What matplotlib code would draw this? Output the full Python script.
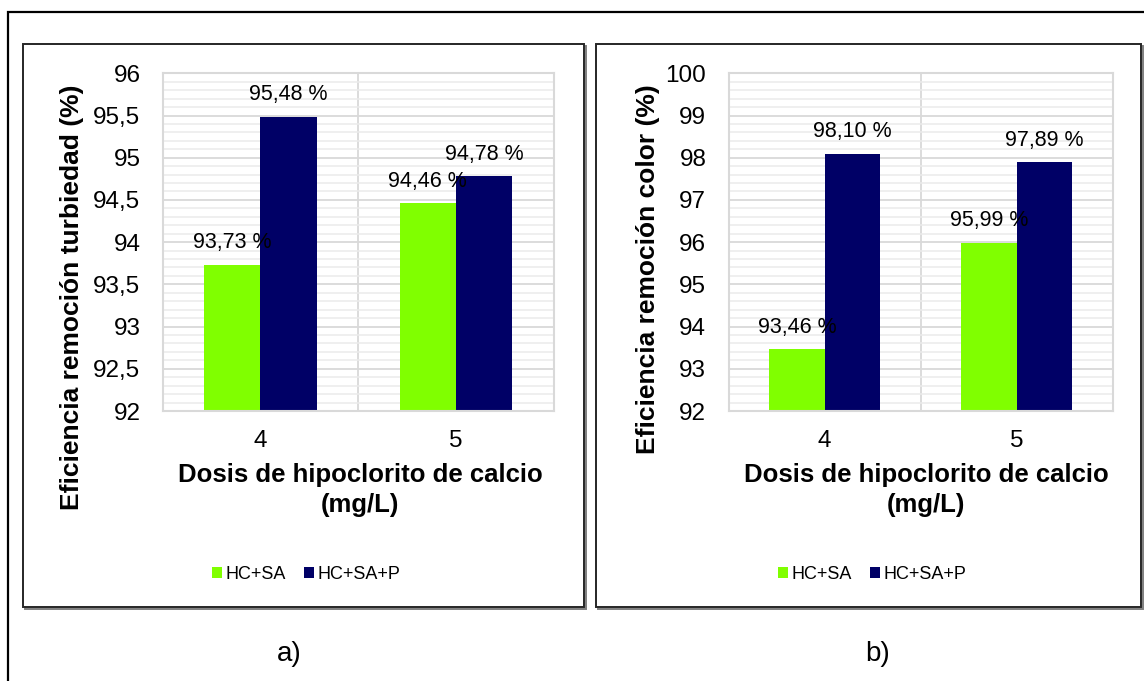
import matplotlib
matplotlib.use("Agg")
import matplotlib.pyplot as plt
from matplotlib.patches import Rectangle
from matplotlib.ticker import MultipleLocator, FuncFormatter

plt.rcParams['font.family'] = ['Liberation Sans', 'DejaVu Sans']

# Data
doses = ["4", "5"]
series_names = ["HC+SA", "HC+SA+P"]
turbidity_hc_sa = [93.73, 94.46]
turbidity_hc_sa_p = [95.48, 94.78]
color_hc_sa = [93.46, 95.99]
color_hc_sa_p = [98.10, 97.89]

GREEN = "#80FF00"
NAVY = "#000066"

W, H = 1144, 681
fig = plt.figure(figsize=(W / 100, H / 100), dpi=100)
fig.patch.set_facecolor("white")


def fx(px):
    return px / W


def fy(py):
    return 1 - py / H


def comma(v, _pos=None):
    return ("%g" % v).replace(".", ",")


def pct(v):
    return ("%.2f %%" % v).replace(".", ",")


# Outer frame and the two panel boxes (with a soft shadow)
fig.add_artist(Rectangle((fx(7.5), fy(700)), fx(1160) - fx(7.5), fy(12) - fy(700),
                         transform=fig.transFigure, fill=False, lw=1.6,
                         edgecolor="black", zorder=-3))
for (l, t, r, b) in [(23, 44, 583.5, 607), (595.5, 44, 1141, 607)]:
    fig.add_artist(Rectangle((fx(l + 2), fy(b + 2)), fx(r) - fx(l), fy(t) - fy(b),
                             transform=fig.transFigure, fill=False, lw=1.4,
                             edgecolor="#7f7f7f", zorder=-2))
    fig.add_artist(Rectangle((fx(l), fy(b)), fx(r) - fx(l), fy(t) - fy(b),
                             transform=fig.transFigure, fill=True, facecolor="white",
                             lw=1.4, edgecolor="#262626", zorder=-1))

panels = [
    dict(rect=(162.6, 73.3, 553.8, 411), a=turbidity_hc_sa, b=turbidity_hc_sa_p,
         ylim=(92, 96), major=0.5, minor=0.1,
         ylabel="Eficiencia remoción turbiedad (%)", ylab_xy=(72, 297),
         xlab_x=360, leg_x=306, tag="a)", tag_x=289),
    dict(rect=(728.5, 73.3, 1112.8, 411), a=color_hc_sa, b=color_hc_sa_p,
         ylim=(92, 100), major=1, minor=0.2,
         ylabel="Eficiencia remoción color (%)", ylab_xy=(648, 269),
         xlab_x=926, leg_x=872, tag="b)", tag_x=878),
]

bw = 0.288
xs = list(range(len(doses)))

for p in panels:
    l, t, r, b = p["rect"]
    ax = fig.add_axes([fx(l), fy(b), fx(r) - fx(l), fy(t) - fy(b)])
    ax.set_zorder(1)
    ax.set_xlim(-0.5, len(doses) - 0.5)
    ax.yaxis.set_major_locator(MultipleLocator(p["major"]))
    ax.yaxis.set_minor_locator(MultipleLocator(p["minor"]))
    ax.yaxis.set_major_formatter(FuncFormatter(comma))
    ax.set_xticks(xs)
    ax.set_xticklabels(doses)
    ax.set_xticks([0.5], minor=True)
    ax.tick_params(axis="y", which="both", length=0, pad=16, labelsize=17.5)
    ax.tick_params(axis="x", which="both", length=0, pad=14, labelsize=17.5)
    ax.grid(axis="y", which="major", color="#d9d9d9", lw=1.3, zorder=0)
    ax.grid(axis="y", which="minor", color="#ebebeb", lw=1.1, zorder=0)
    ax.grid(axis="x", which="minor", color="#d9d9d9", lw=1.3, zorder=0)
    ax.set_axisbelow(True)
    for sp in ax.spines.values():
        sp.set_color("#d9d9d9")
        sp.set_linewidth(1.5)

    bars1 = ax.bar([x - bw / 2 for x in xs], p["a"], width=bw,
                   color=GREEN, label=series_names[0], zorder=2)
    bars2 = ax.bar([x + bw / 2 for x in xs], p["b"], width=bw,
                   color=NAVY, label=series_names[1], zorder=2)
    ax.set_ylim(*p["ylim"])

    for x, v in zip(xs, p["a"]):
        ax.annotate(pct(v), (x - bw / 2, v), xytext=(0, 16),
                    textcoords="offset points", ha="center", va="center",
                    fontsize=15.5, zorder=4)
    for x, v in zip(xs, p["b"]):
        ax.annotate(pct(v), (x + bw / 2, v), xytext=(0, 16),
                    textcoords="offset points", ha="center", va="center",
                    fontsize=15.5, zorder=4)

    fig.text(fx(p["ylab_xy"][0]), fy(p["ylab_xy"][1]), p["ylabel"], rotation=90,
             ha="center", va="center", fontsize=19, fontweight="bold")
    fig.text(fx(p["xlab_x"]), fy(490), "Dosis de hipoclorito de calcio\n(mg/L)",
             ha="center", va="center", fontsize=18.5, fontweight="bold",
             linespacing=1.3)
    fig.legend(handles=[bars1, bars2], labels=series_names, loc="center",
               bbox_to_anchor=(fx(p["leg_x"]), fy(574.5)), ncol=2, frameon=False,
               fontsize=13, handlelength=0.56, handleheight=0.56,
               handletextpad=0.2, columnspacing=1.0)
    fig.text(fx(p["tag_x"]), fy(654), p["tag"], ha="center", va="center",
             fontsize=20)

fig.savefig("out.png", dpi=100, facecolor="white")
